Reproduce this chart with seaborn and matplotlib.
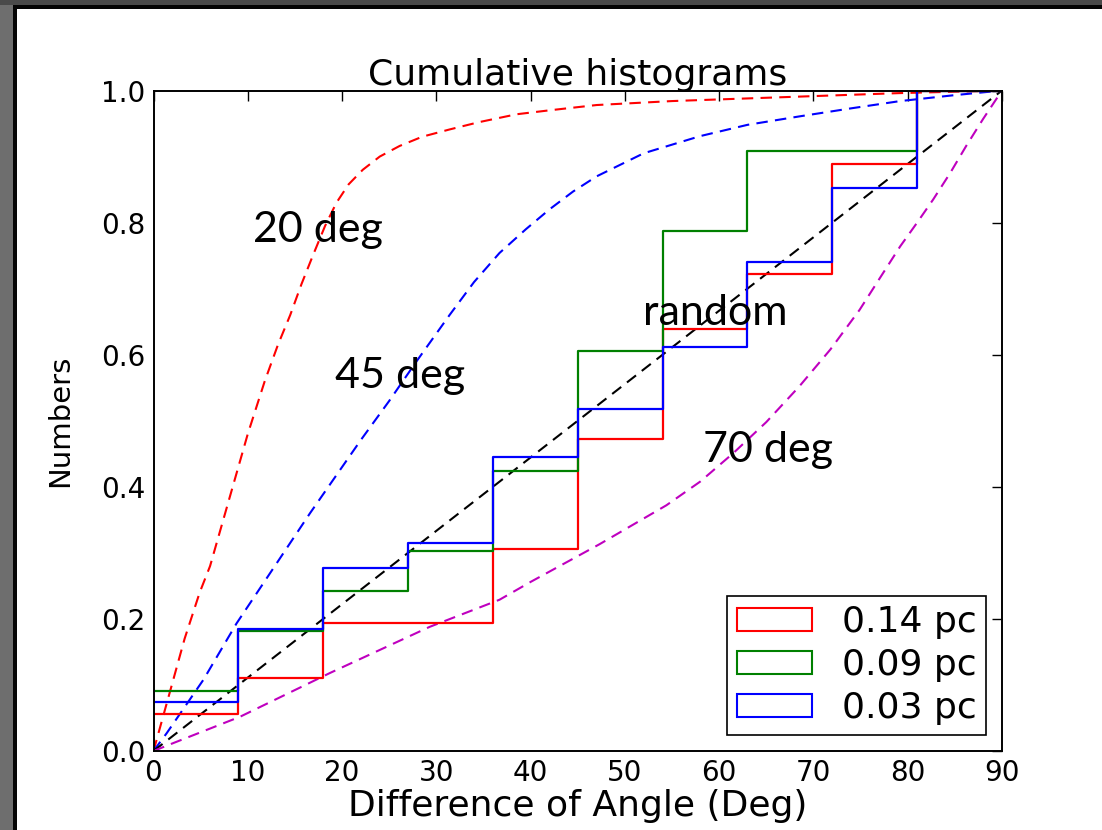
import numpy as np
import pandas as pd
import matplotlib
matplotlib.use("Agg")
import matplotlib.pyplot as plt
import seaborn as sns
from matplotlib.patches import Patch, Rectangle

# ---------------- data ----------------
bin_edges = [0, 9, 18, 27, 36, 45, 54, 63, 72, 81, 90]
bin_centers = [4.5, 13.5, 22.5, 31.5, 40.5, 49.5, 58.5, 67.5, 76.5, 85.5]
counts_014 = [2, 2, 3, 0, 4, 6, 6, 3, 6, 4]   # 0.14 pc (N=36)
counts_009 = [3, 3, 2, 2, 4, 6, 6, 4, 0, 3]   # 0.09 pc (N=33)
counts_003 = [4, 6, 5, 2, 7, 4, 5, 7, 6, 8]   # 0.03 pc (N=54)
series_labels = ["0.14 pc", "0.09 pc", "0.03 pc"]
series_colors = ["#ff0000", "#008000", "#0000ff"]

model20_x = [0, 1.75, 3.3, 4.9, 6.0, 8.0, 10.0, 11.8, 13.2, 14.5, 15.7, 16.9, 18.2, 19.4,
             20.7, 22.2, 24.0, 26.1, 28.5, 31.4, 34.5, 38.5, 42.0, 47.0, 55.0, 65.0, 79.0, 90.0]
model20_y = [0, 0.09, 0.17, 0.24, 0.28, 0.38, 0.48, 0.56, 0.615, 0.66, 0.707, 0.75, 0.795, 0.83,
             0.858, 0.88, 0.90, 0.916, 0.93, 0.941, 0.952, 0.964, 0.97, 0.978, 0.984, 0.989, 0.996, 1.0]

model45_x = [0, 1.4, 5.3, 8.8, 12.4, 16.6, 22.0, 25.0, 27.9, 31.4, 34.0, 36.7, 39.5, 42.0,
             44.5, 47.0, 52.0, 58.0, 63.0, 68.6, 74.0, 79.2, 85.0, 90.0]
model45_y = [0, 0.027, 0.108, 0.193, 0.27, 0.36, 0.471, 0.53, 0.59, 0.66, 0.71, 0.754, 0.79, 0.82,
             0.847, 0.87, 0.905, 0.931, 0.948, 0.961, 0.973, 0.984, 0.993, 1.0]

model70_x = [0, 2.1, 9.2, 18.7, 29.3, 36.7, 40.0, 47.3, 54.4, 58.0, 61.5, 65.0, 68.5, 71.8,
             74.9, 77.0, 79.2, 81.0, 82.7, 84.5, 86.2, 88.0, 90.0]
model70_y = [0, 0.012, 0.052, 0.118, 0.188, 0.229, 0.256, 0.313, 0.372, 0.408, 0.451, 0.498, 0.552,
             0.608, 0.668, 0.715, 0.764, 0.80, 0.835, 0.875, 0.916, 0.957, 1.0]

random_x = [0, 90]
random_y = [0, 1.0]

x_ticks = [0, 10, 20, 30, 40, 50, 60, 70, 80, 90]
y_ticks = [0.0, 0.2, 0.4, 0.6, 0.8, 1.0]
y_ticklabels = ["0.0", "0.2", "0.4", "0.6", "0.8", "1.0"]

annotations = ["20 deg", "45 deg", "random", "70 deg"]
annot_x = [10.55, 19.2, 51.9, 58.3]
annot_y = [0.771, 0.55, 0.645, 0.438]

# ---------------- style ----------------
sns.set_theme(style="white")
plt.rcParams["font.family"] = ["DejaVu Sans"]
plt.rcParams["axes.edgecolor"] = "black"
plt.rcParams["text.color"] = "black"
plt.rcParams["axes.labelcolor"] = "black"
plt.rcParams["xtick.color"] = "black"
plt.rcParams["ytick.color"] = "black"

W, H = 1102, 830
fig = plt.figure(figsize=(W / 100, H / 100), dpi=100, facecolor="white")
ax = fig.add_axes([153.5 / W, 1 - 751 / H, (1002 - 153.5) / W, (751 - 90.5) / H])
ax.set_facecolor("white")

# slide frame (gray border with black inner line on left/top)
fig.patches.append(Rectangle((0, 0), 13 / W, 1, transform=fig.transFigure,
                             facecolor="#6e6e6e", edgecolor="none", zorder=-5))
fig.patches.append(Rectangle((0, 1 - 5 / H), 1, 5 / H, transform=fig.transFigure,
                             facecolor="#4a4a4a", edgecolor="none", zorder=-5))
fig.patches.append(Rectangle((13 / W, 0), 4 / W, 1 - 5 / H, transform=fig.transFigure,
                             facecolor="#050505", edgecolor="none", zorder=-4))
fig.patches.append(Rectangle((13 / W, 1 - 9 / H), 1 - 13 / W, 4 / H, transform=fig.transFigure,
                             facecolor="#050505", edgecolor="none", zorder=-4))

# model curves (dashed)
dash = (5.5, 3.5)
for xs, ys, c in [(model20_x, model20_y, "#ff0000"),
                  (model45_x, model45_y, "#0000ff"),
                  (random_x, random_y, "#000000"),
                  (model70_x, model70_y, "#bf00bf")]:
    sns.lineplot(x=xs, y=ys, color=c, lw=1.5, dashes=False, ax=ax, sort=False)
    ax.lines[-1].set_dashes(dash)

# cumulative step histograms
for counts, c in zip([counts_014, counts_009, counts_003], series_colors):
    sns.histplot(x=bin_centers, weights=counts, bins=bin_edges, stat="proportion",
                 cumulative=True, element="step", fill=False, color=c, lw=1.6, ax=ax)

ax.set_xlim(0, 90)
ax.set_ylim(0, 1.0)
ax.set_xticks(x_ticks)
ax.set_xticklabels([str(v) for v in x_ticks])
ax.set_yticks(y_ticks)
ax.set_yticklabels(y_ticklabels)
ax.tick_params(direction="in", length=7, width=1, top=True, right=True,
               labelsize=20, colors="black", pad=6)
for s in ax.spines.values():
    s.set_linewidth(1.4)
    s.set_color("black")
    s.set_visible(True)

ax.set_title("Cumulative histograms", fontsize=26, pad=4, color="black")
ax.set_xlabel("Difference of Angle (Deg)", fontsize=26, labelpad=1)
ax.set_ylabel("Numbers", fontsize=21)
ax.yaxis.set_label_coords(-0.093, 0.5)

for t, xv, yv in zip(annotations, annot_x, annot_y):
    ax.text(xv, yv, t, fontsize=31, family=["Lato", "DejaVu Sans"],
            ha="left", va="baseline", color="black")

handles = [Patch(facecolor="none", edgecolor=c, lw=1.5) for c in series_colors]
leg = ax.legend(handles, series_labels, loc="lower right", fontsize=26,
                frameon=True, fancybox=False, framealpha=1, edgecolor="black",
                handlelength=2.08, handleheight=0.61, handletextpad=0.83,
                labelspacing=0.25, borderpad=0.26, borderaxespad=0.45)
leg.get_frame().set_linewidth(1.2)

fig.savefig("out.png", dpi=100, facecolor="white")
